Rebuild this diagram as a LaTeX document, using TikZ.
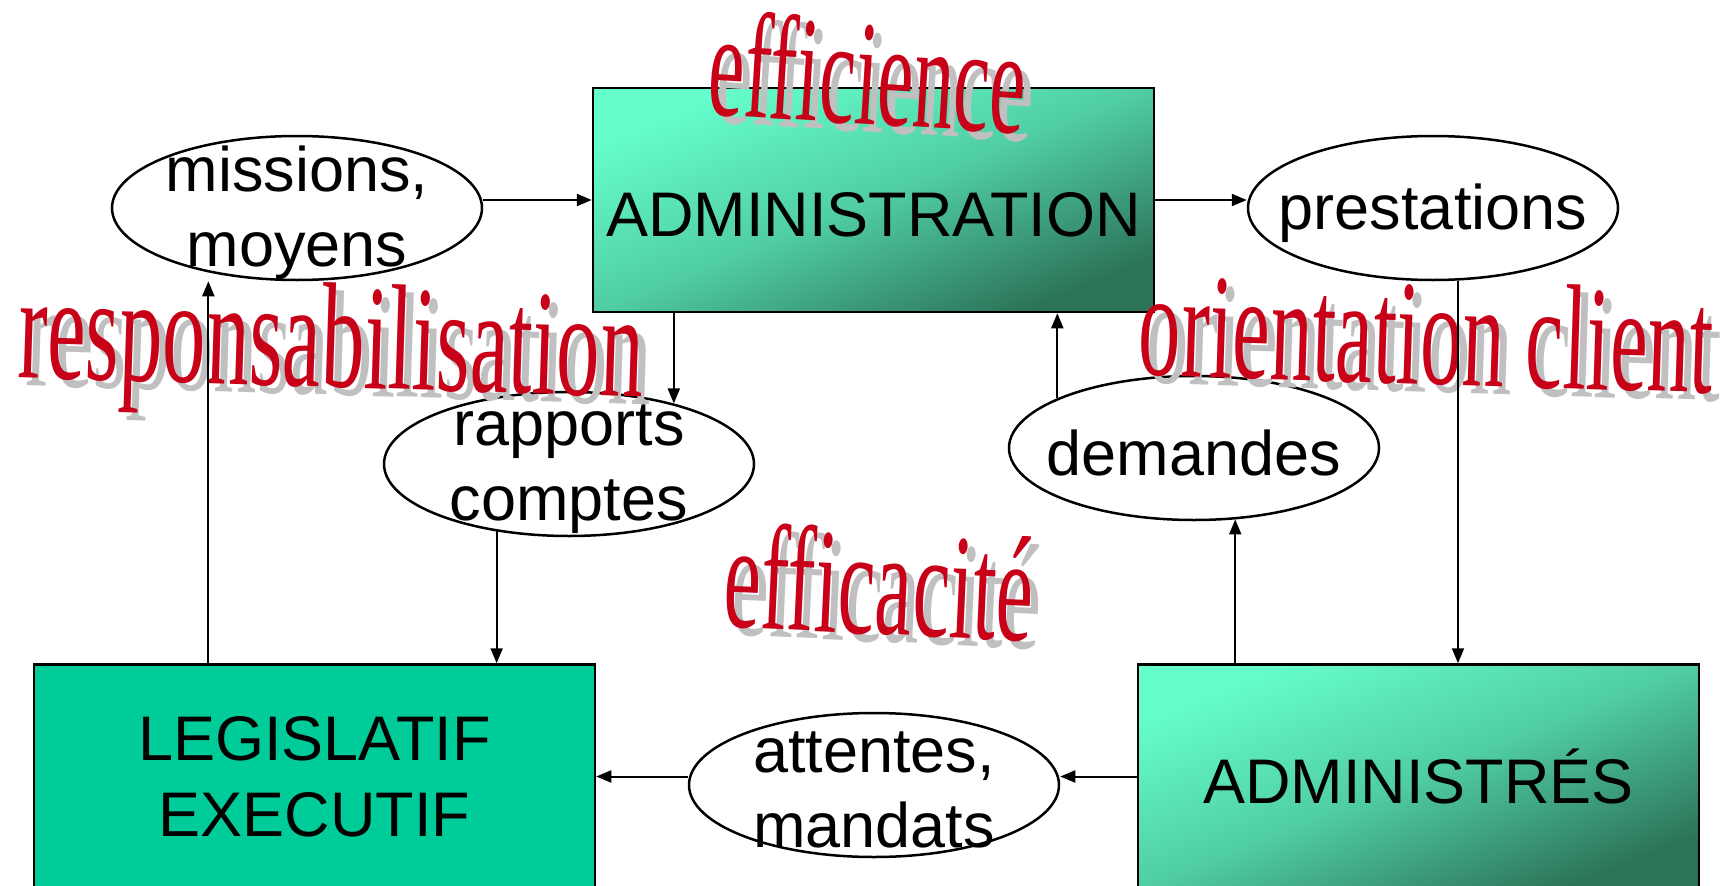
\documentclass[tikz,border=0pt]{standalone}
\usepackage{fontspec}
\setmainfont{Liberation Sans}
\newfontfamily\artfont[Ligatures=NoCommon]{Liberation Serif}
\usetikzlibrary{shapes.geometric,arrows.meta}

\definecolor{boxlight}{RGB}{102,255,204}
\definecolor{boxmid}{RGB}{80,205,163}
\definecolor{boxdark}{RGB}{44,115,88}
\definecolor{boxflat}{RGB}{0,204,153}
\definecolor{artred}{RGB}{200,0,24}
\definecolor{artgray}{RGB}{192,192,192}

\tikzset{
	block/.style={rectangle, draw=black, line width=2.5pt, minimum width=561pt, minimum height=224pt, inner sep=0pt, font=\fontsize{63}{76}\selectfont, align=center},
	shadedblock/.style={block, top color=boxlight, bottom color=boxdark, middle color=boxmid, shading angle=22},
	bubble/.style={ellipse, draw=black, fill=white, line width=2.5pt, minimum width=370pt, minimum height=144pt, inner sep=0pt},
	bubbletext/.style={font=\fontsize{63}{75}\selectfont, align=center, inner sep=0pt, yshift=-5pt},
	arr/.style={-{Triangle[length=15pt,width=12pt]}, line width=2pt},
	art/.style={font=\artfont\fontsize{150}{150}\selectfont, text=artred, anchor=base, inner sep=0pt},
	artshadow/.style={art, text=artgray, xshift=8pt, yshift=-8pt}
}

\begin{document}
\begin{tikzpicture}[x=1pt,y=-1pt]
	
	\useasboundingbox (0,0) rectangle (1733,886);
	
	\node[shadedblock, text height=73pt] (admin) at (873.5,200) {ADMINISTRATION};
	\node[block, fill=boxflat] (legis) at (314.5,776.5) {LEGISLATIF\\EXECUTIF};
	\node[shadedblock] (administres) at (1418.5,776.5) {ADMINISTRÉS};
	
	\node[bubble] (missions) at (297,208) {};
	\node[bubble] (prestations) at (1433,208) {};
	\node[bubble] (rapports) at (569,464) {};
	\node[bubble] (demandes) at (1194,448) {};
	\node[bubble] (attentes) at (874,785) {};
	
	\node[bubbletext] (missions-t) at (missions) {missions,\\moyens};
	\node[bubbletext] (prestations-t) at (prestations) {prestations};
	\node[bubbletext] (rapports-t) at (rapports) {rapports\\comptes};
	\node[bubbletext] (demandes-t) at (demandes) {demandes};
	\node[bubbletext] (attentes-t) at (attentes) {attentes,\\mandats};
	
	\node[artshadow, rotate=-3.5, xscale=0.54] (efficience-s) at (865,124) {efficience};
	\node[art, rotate=-3.5, xscale=0.54] (efficience) at (865,124) {efficience};
	\node[artshadow, rotate=-1.8, xscale=0.577] (respons-s) at (330,387) {responsabilisation};
	\node[art, rotate=-1.8, xscale=0.577] (respons) at (330,387) {responsabilisation};
	\node[artshadow, rotate=-1.8, xscale=0.563] (orientation-s) at (1425,384) {orientation client};
	\node[art, rotate=-1.8, xscale=0.563] (orientation) at (1425,384) {orientation client};
	\node[artshadow, rotate=-2.6, xscale=0.557] (efficacite-s) at (877,634) {efficacité};
	\node[art, rotate=-2.6, xscale=0.557] (efficacite) at (877,634) {efficacité};
	
	\draw[arr] (missions.east |- admin.west) -- (admin.west);
	\draw[arr] (admin.east) -- (admin.east -| prestations.west);
	\draw[arr] (admin.south -| rapports.30) -- (rapports.30);
	\draw[arr] (rapports.223) -- (rapports.223 |- legis.north);
	\draw[arr] (legis.north -| missions.216) -- (missions.216 |- missions.south);
	\draw[arr] (prestations.289) -- (prestations.289 |- administres.north);
	\draw[arr] (administres.north -| demandes.300) -- (demandes.300);
	\draw[arr] (demandes.160) -- (demandes.160 |- admin.south);
	\draw[arr] (administres.west) -- (administres.west -| attentes.east);
	\draw[arr] (attentes.west |- legis.east) -- (legis.east);
	
\end{tikzpicture}
\end{document}
